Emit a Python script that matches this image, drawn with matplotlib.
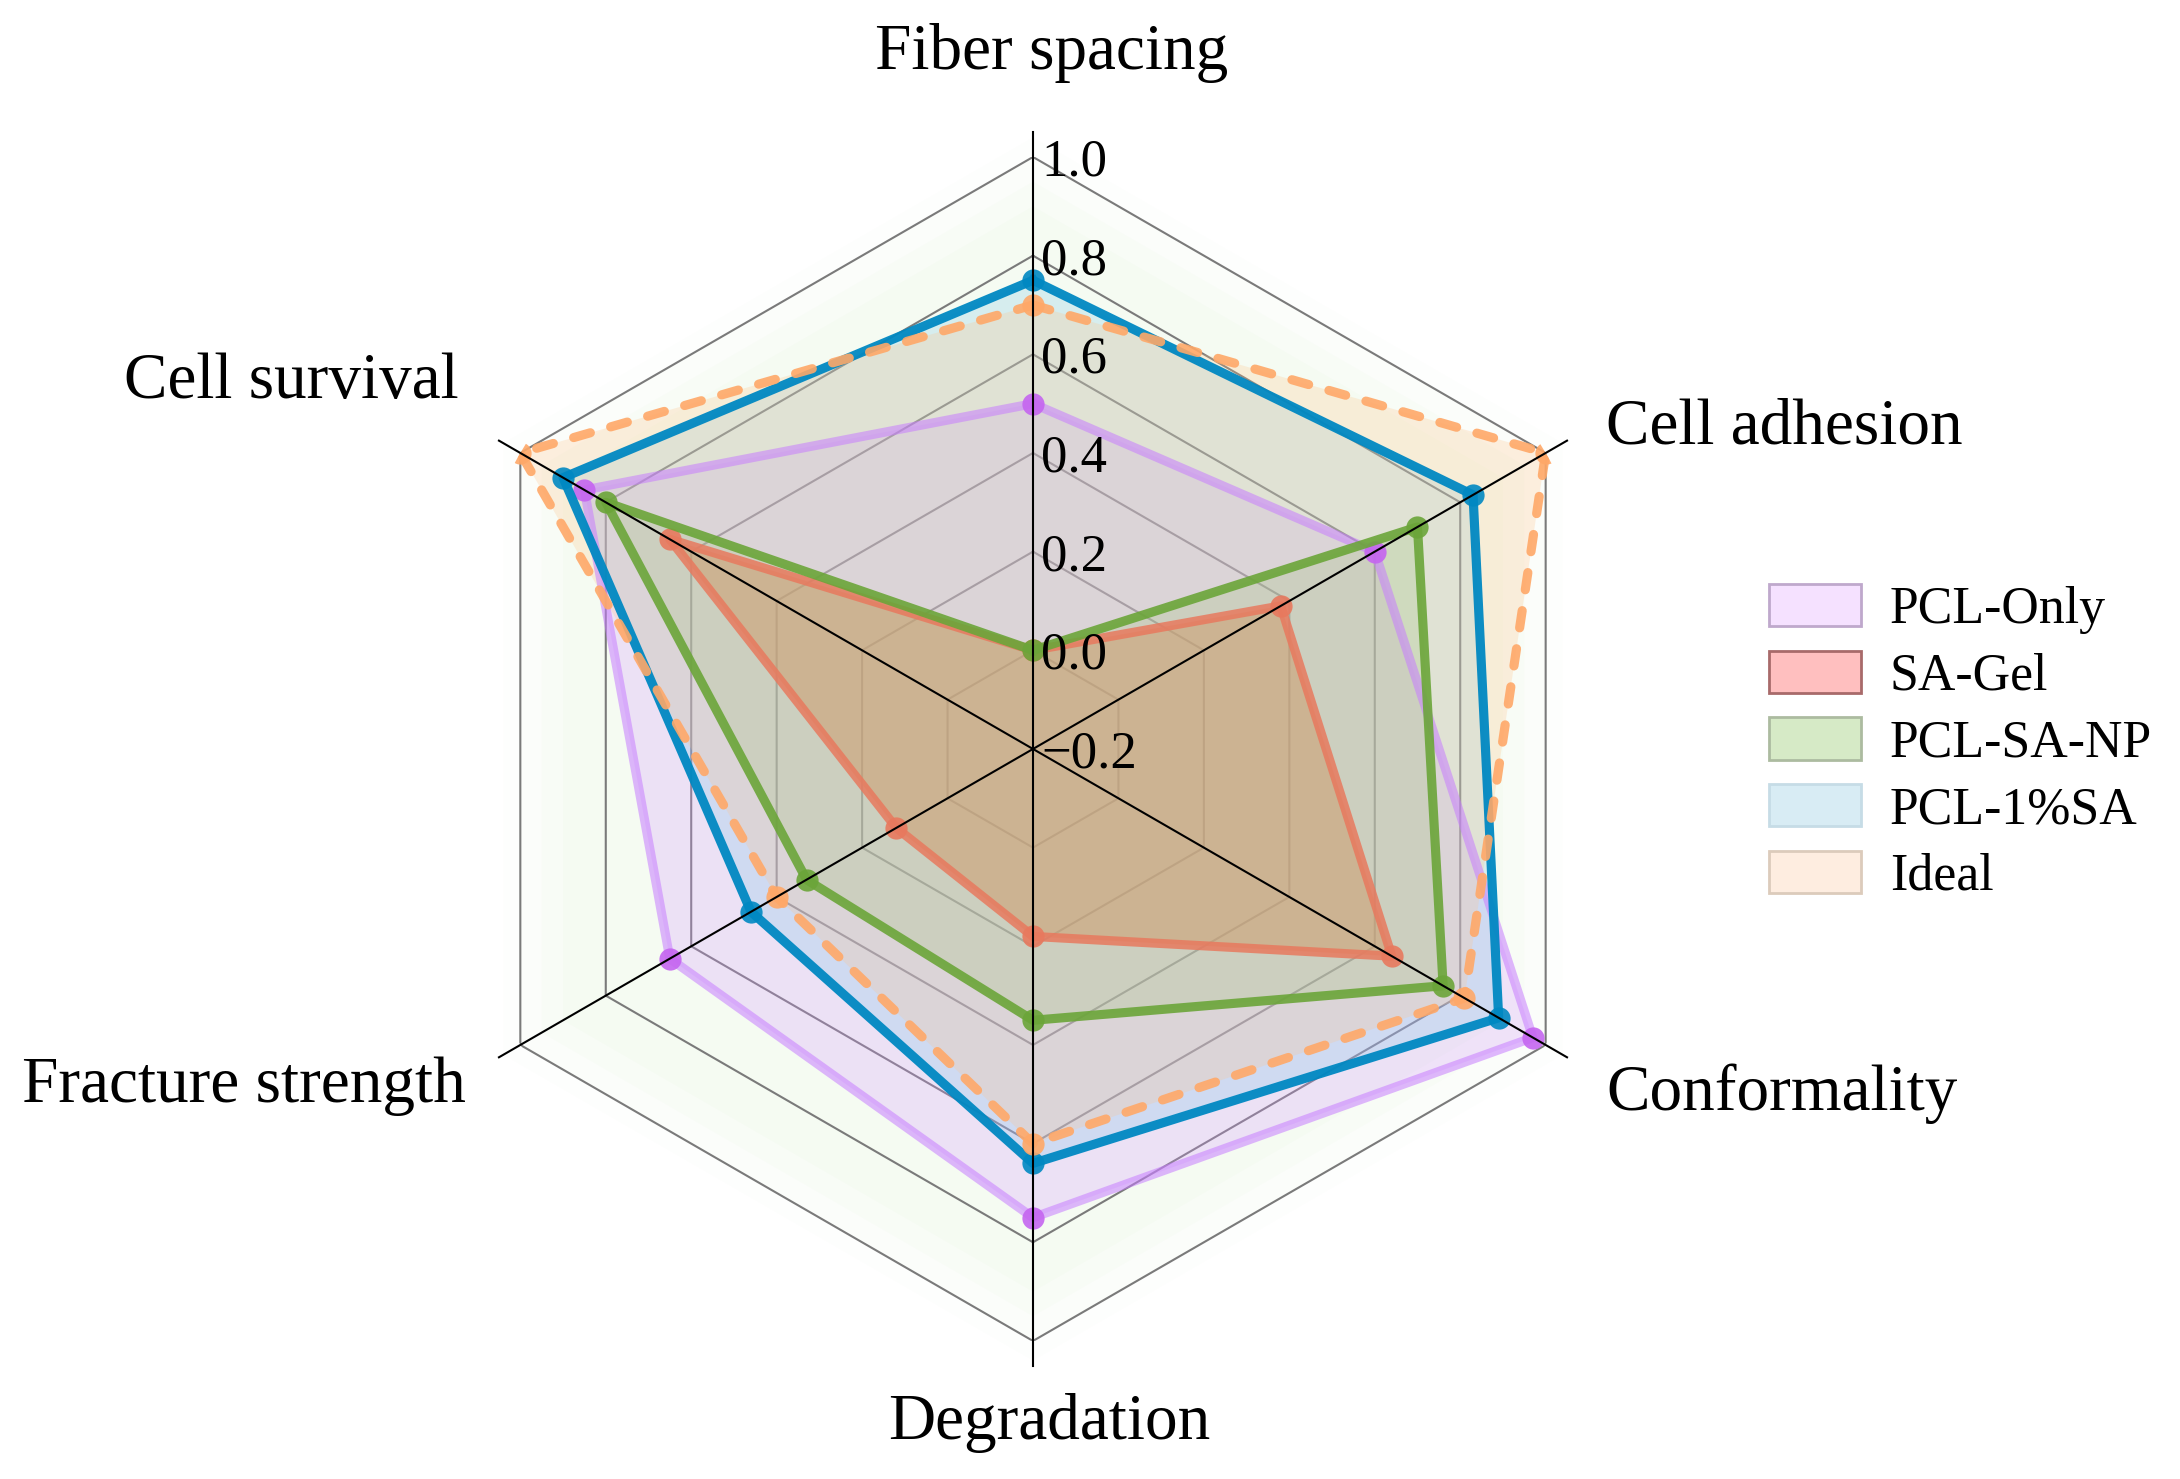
import numpy as np
import matplotlib
matplotlib.use('Agg')
import matplotlib.pyplot as plt
from matplotlib.patches import Patch

plt.rcParams['font.family'] = ['Liberation Serif', 'DejaVu Serif']

categories = ['Fiber spacing', 'Cell adhesion', 'Conformality',
              'Degradation', 'Fracture strength', 'Cell survival']
series_names = ['PCL-Only', 'SA-Gel', 'PCL-SA-NP', 'PCL-1%SA', 'Ideal']
pcl_only = [0.50, 0.60, 0.97, 0.75, 0.65, 0.85]
sa_gel = [0.00, 0.38, 0.64, 0.18, 0.12, 0.65]
pcl_sa_np = [0.00, 0.70, 0.76, 0.35, 0.33, 0.80]
pcl_1sa = [0.75, 0.83, 0.89, 0.64, 0.46, 0.90]
ideal = [0.70, 1.00, 0.81, 0.60, 0.40, 1.00]
r_ticks = [-0.2, 0.0, 0.2, 0.4, 0.6, 0.8, 1.0]

# styles
line_colors = ['#C77DFF', '#E8795E', '#6BA539', '#0088C2', '#FFA868']
line_alpha = [0.55, 0.85, 0.9, 0.95, 0.9]
mark_colors = ['#C565F0', '#E8795E', '#6BA539', '#0088C2', '#FFA868']
fill_colors = ['#D596FF', '#F06A3A', '#8CC860', '#7CC6E6', '#FFC48A']
fill_alpha = [0.25, 0.6, 0.28, 0.25, 0.25]
leg_face = ['#F5E1FF', '#FFBFBF', '#D6EAC6', '#D8ECF4', '#FEEDE0']
leg_edge = ['#BFA8CC', '#A86A6A', '#ACBBA0', '#C6DCE6', '#DCCBBB']

data = [pcl_only, sa_gel, pcl_sa_np, pcl_1sa, ideal]

n = len(categories)
angles = np.linspace(0, 2 * np.pi, n, endpoint=False)
ang_c = np.concatenate([angles, angles[:1]])

fig = plt.figure(figsize=(10.9, 7.395), dpi=200)
ax = fig.add_axes([0.2023, 0.0933, 0.5431, 0.8006], projection='polar')
ax.set_theta_offset(np.pi / 2)
ax.set_theta_direction(-1)
ax.set_ylim(-0.2, 1.0)
ax.set_xticks([])
ax.set_yticks([])
ax.grid(False)
ax.spines['polar'].set_visible(False)
ax.patch.set_alpha(0)

# faint green glow behind the web
for rr, a in [(1.04, 0.015), (1.0, 0.025), (0.95, 0.035), (0.9, 0.04)]:
    ax.fill(ang_c, [rr] * (n + 1), color='#B8E8A0', alpha=a, lw=0, clip_on=False)

# hexagon grid
for lv in r_ticks[1:]:
    ax.plot(ang_c, [lv] * (n + 1), color='#7a7a7a', lw=0.75, zorder=1)

for i, vals in enumerate(data):
    v = list(vals) + [vals[0]]
    ax.fill(ang_c, v, color=fill_colors[i], alpha=fill_alpha[i], lw=0, zorder=2)
    if series_names[i] == 'Ideal':
        ax.plot(ang_c, v, color=line_colors[i], alpha=line_alpha[i], lw=3.3,
                dashes=(1.9, 2.3), dash_capstyle='round', zorder=3 + i)
    else:
        ax.plot(ang_c, v, color=line_colors[i], alpha=line_alpha[i], lw=3.3,
                solid_joinstyle='round', zorder=3 + i)
    ax.plot(angles, vals, 'o', color=mark_colors[i], alpha=0.9, ms=8,
            mec='none', zorder=3 + i)

# spokes
for a in angles:
    ax.plot([a, a], [-0.2, 1.05], color='black', lw=0.75, zorder=10, clip_on=False)

# radial tick labels along the top spoke
for t in r_ticks:
    lab = ('%.1f' % t).replace('-', '\u2212')
    ax.annotate(lab, xy=(0, t), xytext=(3, 0), textcoords='offset points',
                ha='left', va='center_baseline', fontsize=19, zorder=11)

# category labels
label_pos = [(1.5, 1.225, 'center'), (60.2, 1.138, 'left'), (120.5, 1.148, 'left'),
             (178.6, 1.152, 'center'), (239.8, 1.130, 'right'), (303.1, 1.189, 'right')]
for name, (th, r, ha) in zip(categories, label_pos):
    ax.text(np.deg2rad(th), r, name, ha=ha, va='center_baseline', fontsize=23.5)

handles = [Patch(facecolor=leg_face[i], edgecolor=leg_edge[i], lw=1.0)
           for i in range(len(series_names))]
fig.legend(handles, series_names, loc='center left', bbox_to_anchor=(0.790, 0.498),
           frameon=False, fontsize=18.7, handlelength=1.78, handleheight=0.87,
           handletextpad=0.55, labelspacing=0.32)

fig.savefig('out.png', dpi=200)
